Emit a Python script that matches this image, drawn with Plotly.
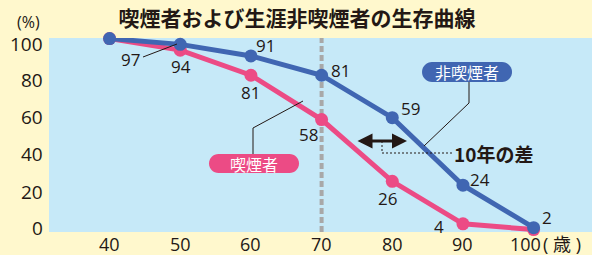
import plotly.graph_objects as go

ages = [40, 50, 60, 70, 80, 90, 100]
nonsmoker = [100, 97, 91, 81, 59, 24, 2]
smoker = [100, 94, 81, 58, 26, 4, 1]
x_ticks = [40, 50, 60, 70, 80, 90, 100]
y_ticks = [0, 20, 40, 60, 80, 100]

title_text = "喫煙者および生涯非喫煙者の生存曲線"
label_nonsmoker = "非喫煙者"
label_smoker = "喫煙者"
diff_text = "10年の差"
x_unit = "( 歳 )"
y_unit = "(%)"

BLUE = "#4066B2"
PINK = "#EC4B85"
DARK = "#231815"
NUM_FONT = "Open Sans, Noto Sans CJK JP"
JP_FONT = "Noto Sans CJK JP"

W, H = 592, 255
ML, MR, MT, MB = 49, 0, 38, 23
PW, PH = W - ML - MR, H - MT - MB
X0, X1 = 31.43, 108.26
Y0, Y1 = -0.26, 100.3


def px_x(p):
    return X0 + (p - ML) / PW * (X1 - X0)


def px_y(p):
    return Y1 - (p - MT) / PH * (Y1 - Y0)


fig = go.Figure()
fig.add_trace(go.Scatter(x=ages, y=smoker, mode="lines+markers",
                         line=dict(color=PINK, width=5),
                         marker=dict(color=PINK, size=13),
                         cliponaxis=False, hoverinfo="skip"))
fig.add_trace(go.Scatter(x=ages, y=nonsmoker, mode="lines+markers",
                         line=dict(color=BLUE, width=5),
                         marker=dict(color=BLUE, size=13),
                         cliponaxis=False, hoverinfo="skip"))

annotations = []
# y tick labels (drawn as text so the end labels can sit slightly inward, like the reference)
ytick_shift = {0: 4, 20: 1, 40: 0, 60: -1, 80: -3, 100: -5}
for v in y_ticks:
    annotations.append(dict(xref="paper", x=0, y=v, text=str(v), showarrow=False,
                            xanchor="right", yanchor="middle", xshift=-4, yshift=ytick_shift[v],
                            font=dict(family=NUM_FONT, size=19, color=DARK)))
# x tick labels
xtick_shift = {40: 0, 50: 0, 60: 0, 70: 0, 80: 0, 90: 0, 100: -8}
for v in x_ticks:
    annotations.append(dict(x=v, yref="paper", y=0, text=str(v), showarrow=False,
                            xanchor="center", yanchor="middle", xshift=xtick_shift[v],
                            yshift=-11.5, font=dict(family=NUM_FONT, size=18, color=DARK)))

# data labels (value shown next to point, offsets in pixels)
ns_offsets = {1: (-50, -15), 2: (15, 10), 3: (19, 5), 4: (18, 9), 5: (17, 6), 6: (13, 10)}
sm_offsets = {1: (1, -16), 2: (0, -17), 3: (-13, -15), 4: (-5, -17), 5: (-24, -3)}
for i, (dx, dy) in ns_offsets.items():
    annotations.append(dict(x=ages[i], y=nonsmoker[i], text=str(nonsmoker[i]),
                            showarrow=False, xshift=dx, yshift=dy,
                            font=dict(family=NUM_FONT, size=17, color=DARK)))
for i, (dx, dy) in sm_offsets.items():
    annotations.append(dict(x=ages[i], y=smoker[i], text=str(smoker[i]),
                            showarrow=False, xshift=dx, yshift=dy,
                            font=dict(family=NUM_FONT, size=17, color=DARK)))

# axis unit labels
annotations.append(dict(xref="paper", yref="paper", x=(28 - ML) / PW, y=(MT + PH - 22) / PH,
                        text=y_unit, showarrow=False, xanchor="center", yanchor="middle",
                        font=dict(family=NUM_FONT, size=16, color=DARK)))
annotations.append(dict(xref="paper", yref="paper", x=(541 - ML) / PW, y=0, yshift=-11.5,
                        text=x_unit, showarrow=False, xanchor="left", yanchor="middle",
                        font=dict(family=NUM_FONT, size=18, color=DARK)))

# pill labels
annotations.append(dict(x=px_x(467), y=px_y(72), text=label_nonsmoker, showarrow=False,
                        font=dict(family=JP_FONT, size=16, color="white")))
annotations.append(dict(x=px_x(254), y=px_y(163.5), text=label_smoker, showarrow=False,
                        font=dict(family=JP_FONT, size=16, color="white")))

# difference arrow
annotations.append(dict(x=px_x(407), y=px_y(141), ax=-51, ay=0, text="",
                        showarrow=True, arrowhead=2, startarrowhead=2,
                        arrowside="end+start", arrowwidth=3, arrowsize=1,
                        startarrowsize=1, arrowcolor=DARK))
annotations.append(dict(x=px_x(452), y=px_y(153), text=diff_text, showarrow=False,
                        xanchor="left", yanchor="middle",
                        font=dict(family=JP_FONT, size=19, color=DARK, weight="bold")))


def pill(w, h):
    r = h
    k = 0.5523 * r
    return (f"M {-w + r},{-h} L {w - r},{-h} "
            f"C {w - r + k},{-h} {w},{-k} {w},0 "
            f"C {w},{k} {w - r + k},{h} {w - r},{h} "
            f"L {-w + r},{h} "
            f"C {-w + r - k},{h} {-w},{k} {-w},0 "
            f"C {-w},{-k} {-w + r - k},{-h} {-w + r},{-h} Z")


def poly(pts):
    return "M " + " L ".join(f"{px_x(a)},{px_y(b)}" for a, b in pts)


shapes = [
    dict(type="line", xref="x", yref="paper", x0=70, x1=70, y0=0, y1=1,
         line=dict(color="#A8A8A8", width=4, dash="6px,3px"), layer="below"),
    dict(type="path", path=poly([(143, 57), (177, 44)]), line=dict(color=DARK, width=1)),
    dict(type="path", path=poly([(469, 82), (469, 103), (424, 146)]), line=dict(color=DARK, width=1)),
    dict(type="path", path=poly([(253, 155), (253, 128), (303, 101)]), line=dict(color=DARK, width=1)),
    dict(type="path", path=poly([(382, 141), (382, 153), (452, 153)]),
         line=dict(color=DARK, width=1, dash="2px,2px")),
    dict(type="path", xref="x", yref="y", xsizemode="pixel", ysizemode="pixel",
         xanchor=px_x(467), yanchor=px_y(72), path=pill(45, 10),
         fillcolor=BLUE, line=dict(width=0)),
    dict(type="path", xref="x", yref="y", xsizemode="pixel", ysizemode="pixel",
         xanchor=px_x(254), yanchor=px_y(163.5), path=pill(45, 9.5),
         fillcolor=PINK, line=dict(width=0)),
]

fig.update_layout(
    template="none",
    width=W, height=H,
    margin=dict(l=ML, r=MR, t=MT, b=MB, pad=0, autoexpand=False),
    paper_bgcolor="#FFF8CD",
    plot_bgcolor="#C6E9F8",
    showlegend=False,
    title=dict(text=title_text, x=297 / W, y=1 - 19 / H, xanchor="center", yanchor="middle",
               automargin=False,
               font=dict(family=JP_FONT, size=21, color=DARK, weight="bold")),
    xaxis=dict(range=[X0, X1], tickvals=x_ticks, showticklabels=False,
               showgrid=False, zeroline=False, showline=False, ticks="", automargin=False),
    yaxis=dict(range=[Y0, Y1], tickvals=y_ticks, showticklabels=False,
               showgrid=False, zeroline=False, showline=False, ticks="", automargin=False),
    annotations=annotations,
    shapes=shapes,
)

fig.write_html("out.html", config={"displayModeBar": False},
               post_script="document.body.style.margin='0px';document.body.style.overflow='hidden';")
